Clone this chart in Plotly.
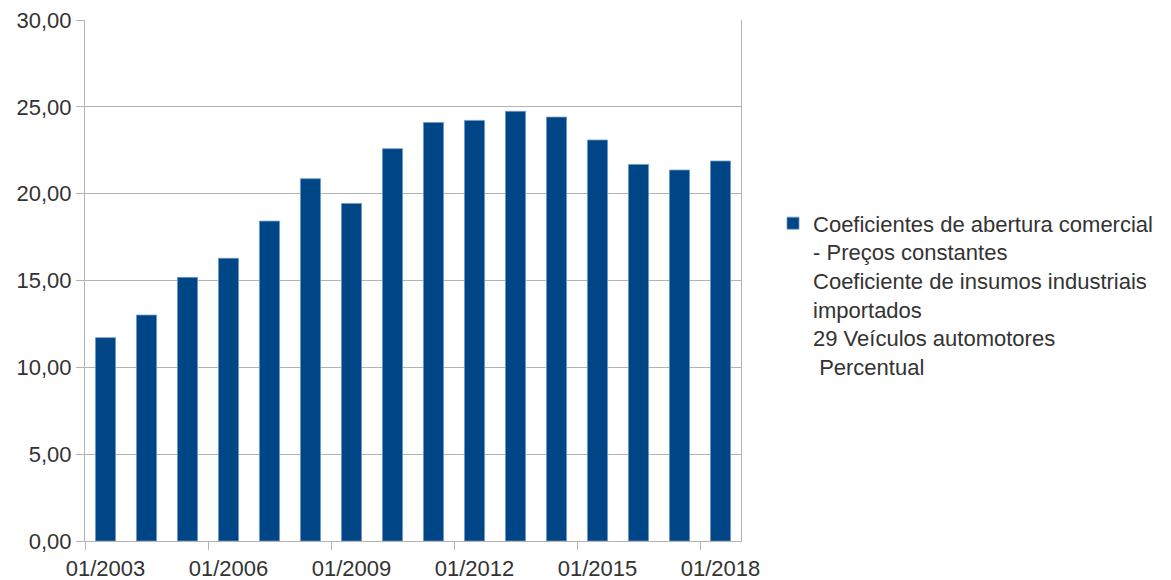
import plotly.graph_objects as go

years = list(range(2003, 2019))
values = [11.71, 13.01, 15.18, 16.28, 18.42, 20.86, 19.44, 22.59,
          24.10, 24.22, 24.74, 24.41, 23.09, 21.68, 21.36, 21.88]
label_years = [2003, 2006, 2009, 2012, 2015, 2018]
tick_labels = ["01/%d" % y for y in label_years]
boundary_ticks = [y - 0.5 for y in label_years]
series_name = ("Coeficientes de abertura comercial<br>- Preços constantes<br>"
               "Coeficiente de insumos industriais<br>importados<br>"
               "29 Veículos automotores<br>\u00a0Percentual")

FONT = "Liberation Sans, Arial, sans-serif"
GRID = "#b3b3b3"
TXT = "#333333"

fig = go.Figure()
fig.add_trace(go.Bar(
    x=years, y=values, name=series_name, showlegend=True,
    marker=dict(color="#004586", line=dict(color="#6f98c4", width=0.8)),
))

fig.update_layout(
    width=1171, height=580,
    margin=dict(l=85, r=430, t=20, b=39),
    paper_bgcolor="white", plot_bgcolor="white",
    separators=",.",
    bargap=0.51,
    font=dict(family=FONT, size=22, color=TXT),
    showlegend=True,
    legend=dict(x=1.0488, xanchor="left", y=0.65, yanchor="top",
                valign="top", font=dict(family=FONT, size=22, color=TXT),
                bgcolor="rgba(0,0,0,0)"),
)
fig.update_xaxes(
    range=[2002.5, 2018.5], automargin=False,
    tickmode="array", tickvals=label_years, ticktext=tick_labels,
    ticks="", showgrid=False, zeroline=False,
    showline=True, linecolor=GRID, linewidth=1,
    ticklabelstandoff=8,
    minor=dict(tickmode="array", tickvals=boundary_ticks, ticks="outside",
               ticklen=8, tickcolor=GRID, tickwidth=1, showgrid=False),
    tickfont=dict(family=FONT, size=22, color=TXT),
)
fig.update_yaxes(
    range=[0, 30], dtick=5, tickformat=".2f", automargin=False,
    showgrid=True, gridcolor=GRID, gridwidth=1, zeroline=False,
    showline=True, linecolor=GRID, linewidth=1, mirror=True,
    ticks="outside", ticklen=8, tickcolor=GRID,
    tickfont=dict(family=FONT, size=22, color=TXT),
)

fig.write_html("out.html")
